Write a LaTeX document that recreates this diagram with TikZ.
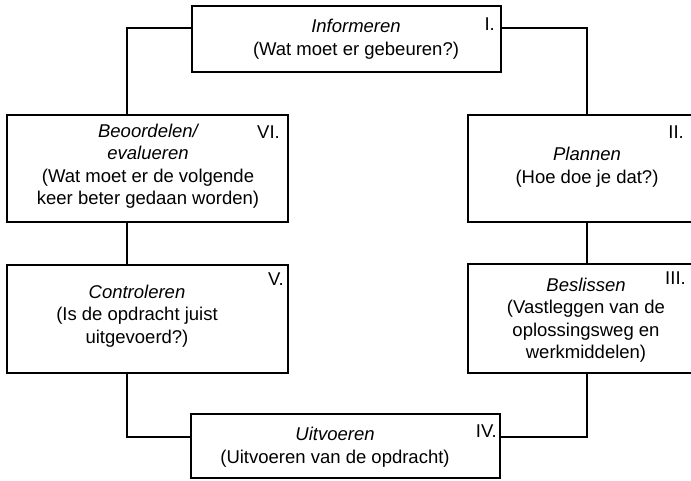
\documentclass[tikz,border=0pt]{standalone}
\usepackage{fontspec}
\setmainfont{Liberation Sans}
\begin{document}
\begin{tikzpicture}[x=1pt,y=-1pt,
  box/.style={draw, line width=1.5pt, inner sep=0pt},
  txt/.style={align=center, font=\fontsize{18.5}{22.5}\selectfont, inner sep=0pt},
  num/.style={anchor=base east, font=\fontsize{18.5}{22.5}\selectfont, inner sep=0pt},
  conn/.style={line width=1.5pt}]
\useasboundingbox (0,0) rectangle (691,480);
% boxes
\node[box, minimum width=309pt, minimum height=66pt] (I) at (346.5,39) {};
\node[box, minimum width=281pt, minimum height=107pt] (VI) at (147.5,168.5) {};
\node[box, minimum width=281pt, minimum height=108pt] (V) at (147.5,319) {};
\node[box, minimum width=238pt, minimum height=107pt] (II) at (587,168.5) {};
\node[box, minimum width=238pt, minimum height=109pt] (III) at (587,318.5) {};
\node[box, minimum width=309pt, minimum height=64pt] (IV) at (345.5,446) {};
% texts
\node[txt] (tI) at (356,39) {\itshape Informeren\\(Wat moet er gebeuren?)};
\node[txt] (tVI) at (148,166) {\itshape Beoordelen/\\\itshape evalueren\\(Wat moet er de volgende\\keer beter gedaan worden)};
\node[txt] (tV) at (137,316) {\itshape Controleren\\(Is de opdracht juist\\uitgevoerd?)};
\node[txt] (tII) at (587,167) {\itshape Plannen\\(Hoe doe je dat?)};
\node[txt] (tIII) at (586,320) {\itshape Beslissen\\(Vastleggen van de\\oplossingsweg en\\werkmiddelen)};
\node[txt] (tIV) at (335,447) {\itshape Uitvoeren\\(Uitvoeren van de opdracht)};
% numerals
\node[num] (nI) at (495,30) {I.};
\node[num] (nVI) at (280,138) {VI.};
\node[num] (nV) at (284,285) {V.};
\node[num] (nII) at (684,138) {II.};
\node[num] (nIII) at (686,284) {III.};
\node[num] (nIV) at (497,437) {IV.};
% corner coordinates
\coordinate (cTL) at (127,28);
\coordinate (cBL) at (127,437);
\coordinate (cBR) at (587,437);
\coordinate (cTR) at (587,28);
% connectors
\draw[conn] (cTL -| I.west) -- (cTL) -- (cTL |- VI.north);
\draw[conn] (cTL |- VI.south) -- (cTL |- V.north);
\draw[conn] (cBL |- V.south) -- (cBL) -- (cBL -| IV.west);
\draw[conn] (cBR -| IV.east) -- (cBR) -- (III.south);
\draw[conn] (III.north) -- (II.south);
\draw[conn] (II.north) -- (cTR) -- (cTR -| I.east);
\end{tikzpicture}
\end{document}
